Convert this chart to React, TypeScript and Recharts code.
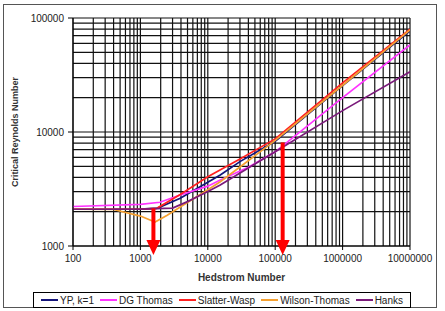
import { LineChart, Line, XAxis, YAxis, ReferenceLine, ReferenceDot, Label } from 'recharts';

// values (He, Re_c)
const ypK1 = [
  { he: 100, re: 2100 }, { he: 1000, re: 2110 }, { he: 1800, re: 2150 }, { he: 3900, re: 2620 },
  { he: 10000, re: 3630 }, { he: 15300, re: 4200 }, { he: 30000, re: 5500 }, { he: 100000, re: 8300 },
  { he: 1000000, re: 25500 }, { he: 10000000, re: 77000 },
];
const dgThomas = [
  { he: 100, re: 2220 }, { he: 1000, re: 2320 }, { he: 1950, re: 2420 }, { he: 3900, re: 2800 },
  { he: 10000, re: 3350 }, { he: 15300, re: 3790 }, { he: 40000, re: 4900 }, { he: 100000, re: 6700 },
  { he: 1000000, re: 20000 }, { he: 10000000, re: 58000 },
];
const slatterWasp = [
  { he: 100, re: 2100 }, { he: 1000, re: 2110 }, { he: 1750, re: 2140 }, { he: 3900, re: 2830 },
  { he: 10000, re: 4050 }, { he: 30000, re: 5800 }, { he: 100000, re: 8700 },
  { he: 1000000, re: 27000 }, { he: 10000000, re: 80000 },
];
const wilsonThomas = [
  { he: 100, re: 2100 }, { he: 400, re: 2090 }, { he: 1000, re: 1830 }, { he: 1650, re: 1620 },
  { he: 2500, re: 1860 }, { he: 3900, re: 2200 }, { he: 10000, re: 3120 }, { he: 15300, re: 3660 },
  { he: 30000, re: 4930 }, { he: 100000, re: 8430 }, { he: 1000000, re: 25700 }, { he: 10000000, re: 78500 },
];
const hanks = [
  { he: 100, re: 2100 }, { he: 1000, re: 2110 }, { he: 3000, re: 2150 }, { he: 5000, re: 2450 },
  { he: 10000, re: 3000 }, { he: 15300, re: 3430 }, { he: 42800, re: 4960 }, { he: 100000, re: 6700 },
  { he: 1000000, re: 15400 }, { he: 10000000, re: 33800 },
];

const series = [
  { name: 'YP, k=1', data: ypK1, color: '#14147a' },
  { name: 'DG Thomas', data: dgThomas, color: '#ff33ff' },
  { name: 'Slatter-Wasp', data: slatterWasp, color: '#ff2020' },
  { name: 'Wilson-Thomas', data: wilsonThomas, color: '#f5a030' },
  { name: 'Hanks', data: hanks, color: '#7a1a7a' },
];

const arrows = [
  { he: 1560, top: 2140 },
  { he: 129000, top: 8100 },
];

const xTicks = [100, 1000, 10000, 100000, 1000000, 10000000];
const yTicks = [1000, 10000, 100000];
const steps = [1, 2, 3, 4, 5, 6, 7, 8, 9];
const gridX = [...xTicks.slice(0, -1).flatMap((d) => steps.map((s) => d * s)), 10000000];
const gridY = [...yTicks.slice(0, -1).flatMap((d) => steps.map((s) => d * s)), 100000];

const FONT = '"Liberation Sans", Arial, sans-serif';
const tickStyle = { fontSize: 10, fill: '#222', fontFamily: FONT };

const ArrowHead = (props: any) => {
  const { cx, cy } = props;
  return <polygon points={`${cx - 7},${cy - 6} ${cx + 7},${cy - 6} ${cx},${cy + 9}`} fill="#ff0000" />;
};

export default function App() {
  return (
    <div style={{ position: 'absolute', left: 0, top: 0, width: 445, height: 311, background: '#fff' }}>
      <div style={{ position: 'absolute', left: 3, top: 4, width: 432, height: 302, border: '1.5px solid #555' }} />
      <LineChart width={445} height={311} margin={{ top: 18, right: 35, bottom: 35, left: 13 }}>
        <XAxis
          dataKey="he"
          type="number"
          scale="log"
          domain={[100, 10000000]}
          ticks={xTicks}
          interval={0}
          allowDataOverflow
          height={30}
          tick={tickStyle}
          tickSize={4}
          tickMargin={5}
          stroke="#000"
        >
          <Label value="Hedstrom Number" position="bottom" offset={-2}
            style={{ fontSize: 10, fontWeight: 'bold', fill: '#333', fontFamily: FONT }} />
        </XAxis>
        <YAxis
          type="number"
          scale="log"
          domain={[1000, 100000]}
          ticks={yTicks}
          interval={0}
          allowDataOverflow
          width={60}
          tick={tickStyle}
          tickSize={5}
          tickMargin={4}
          stroke="#000"
        >
          <Label value="Critical Reynolds Number" angle={-90} position="insideLeft" offset={2}
            style={{ fontSize: 9, fontWeight: 'bold', fill: '#333', fontFamily: FONT, textAnchor: 'middle' }} />
        </YAxis>
        {gridX.map((v) => (
          <ReferenceLine key={`gx${v}`} x={v} stroke="#111" strokeWidth={1.2} />
        ))}
        {gridY.map((v) => (
          <ReferenceLine key={`gy${v}`} y={v} stroke="#111" strokeWidth={1.2} />
        ))}
        {series.map((s) => (
          <Line
            key={s.name}
            data={s.data}
            dataKey="re"
            name={s.name}
            type="linear"
            stroke={s.color}
            strokeWidth={1.7}
            dot={false}
            isAnimationActive={false}
          />
        ))}
        {arrows.map((a) => (
          <ReferenceLine
            key={`a${a.he}`}
            segment={[{ x: a.he, y: a.top }, { x: a.he, y: 1000 }]}
            stroke="#ff0000"
            strokeWidth={4}
          />
        ))}
        {arrows.map((a) => (
          <ReferenceDot key={`h${a.he}`} x={a.he} y={1000} shape={ArrowHead} />
        ))}
      </LineChart>
      <div
        style={{
          position: 'absolute', left: 33, top: 292, width: 376, height: 14,
          border: '1px solid #000', display: 'flex', alignItems: 'center', justifyContent: 'center',
          gap: 6, fontFamily: FONT, fontSize: 10, color: '#222', background: '#fff',
        }}
      >
        {series.map((s) => (
          <div key={s.name} style={{ display: 'flex', alignItems: 'center', gap: 2 }}>
            <span style={{ display: 'inline-block', width: 17, height: 2, background: s.color }} />
            <span>{s.name}</span>
          </div>
        ))}
      </div>
    </div>
  );
}
